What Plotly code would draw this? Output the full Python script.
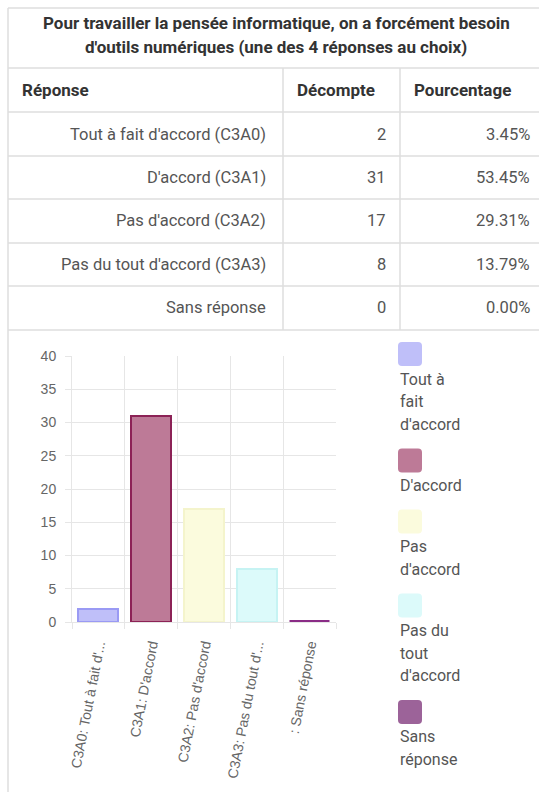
import textwrap
import plotly.graph_objects as go

W, H = 539, 792

# ---- data ----
title_lines = [
    "Pour travailler la pensée informatique, on a forcément besoin",
    "d'outils numériques (une des 4 réponses au choix)",
]
col_headers = ["Réponse", "Décompte", "Pourcentage"]
answers = [
    "Tout à fait d'accord (C3A0)",
    "D'accord (C3A1)",
    "Pas d'accord (C3A2)",
    "Pas du tout d'accord (C3A3)",
    "Sans réponse",
]
counts = [2, 31, 17, 8, 0]
percents = [3.45, 53.45, 29.31, 13.79, 0.00]
bar_labels = [
    "C3A0: Tout à fait d'...",
    "C3A1: D'accord",
    "C3A2: Pas d'accord",
    "C3A3: Pas du tout d'...",
    ": Sans réponse",
]
legend_labels = ["Tout à fait d'accord", "D'accord", "Pas d'accord",
                 "Pas du tout d'accord", "Sans réponse"]
fill_colors = ["#bfbff9", "#bd7a97", "#fbfbdd", "#dcfafa", "#9c6399"]
line_colors = ["#9a9af4", "#8c2256", "#f4f4cc", "#c6f3f3", "#8a2c86"]
y_ticks = [0, 5, 10, 15, 20, 25, 30, 35, 40]


def px(x):
    return x / W


def py(y):
    return 1 - y / H


GRID = "#e6e6e6"
BORDER = "#dedede"
TABLE_FONT = "Roboto, Noto Sans, sans-serif"
AXIS_FONT = "Liberation Sans, Arial, sans-serif"

fig = go.Figure()

fig.add_trace(go.Bar(
    x=bar_labels,
    y=counts,
    width=0.76,
    marker=dict(color=fill_colors,
                line=dict(color=line_colors, width=[2, 2, 2, 2, 3])),
    hoverinfo="x+y",
))

shapes = []
annotations = []

# ---- table grid ----
row_edges = [8, 68, 112, 156, 199, 243, 286, 330]
for y in row_edges:
    shapes.append(dict(type="line", xref="paper", yref="paper",
                       x0=px(8), x1=px(560), y0=py(y), y1=py(y),
                       line=dict(color=BORDER, width=1.5)))
shapes.append(dict(type="line", xref="paper", yref="paper",
                   x0=px(8), x1=px(8), y0=py(8), y1=py(800),
                   line=dict(color=BORDER, width=1.5)))
for x in (283, 400):
    shapes.append(dict(type="line", xref="paper", yref="paper",
                       x0=px(x), x1=px(x), y0=py(68), y1=py(330),
                       line=dict(color=BORDER, width=1.5)))

# title
for i, line in enumerate(title_lines):
    annotations.append(dict(
        xref="paper", yref="paper", x=px(276), y=py(23 + 24 * i),
        text=f"<b>{line}</b>", showarrow=False, xanchor="center", yanchor="middle",
        font=dict(family=TABLE_FONT, size=17, color="#333333")))

# column headers
header_x = [20, 295, 412]
for hx, name in zip(header_x, col_headers):
    annotations.append(dict(
        xref="paper", yref="paper", x=px(hx), y=py(90),
        text=f"<b>{name}</b>", showarrow=False, xanchor="left", yanchor="middle",
        font=dict(family=TABLE_FONT, size=17, color="#333333")))

# body rows
for i, (ans, cnt, pct) in enumerate(zip(answers, counts, percents)):
    yc = (row_edges[i + 2] + row_edges[i + 3]) / 2
    for xr, txt in ((268, ans), (388, str(cnt)), (532, f"{pct:.2f}%")):
        annotations.append(dict(
            xref="paper", yref="paper", x=px(xr), y=py(yc),
            text=txt, showarrow=False, xanchor="right", yanchor="middle",
            font=dict(family=TABLE_FONT, size=16.5, color="#555555")))

# ---- legend (swatch above wrapped label) ----
top = 342
line_pitch = 22.8
for label, color in zip(legend_labels, fill_colors):
    x0, x1, y0, y1 = 398, 422, top, top + 24
    r = 4
    path = (f"M {px(x0 + r)},{py(y0)} L {px(x1 - r)},{py(y0)} "
            f"Q {px(x1)},{py(y0)} {px(x1)},{py(y0 + r)} "
            f"L {px(x1)},{py(y1 - r)} Q {px(x1)},{py(y1)} {px(x1 - r)},{py(y1)} "
            f"L {px(x0 + r)},{py(y1)} Q {px(x0)},{py(y1)} {px(x0)},{py(y1 - r)} "
            f"L {px(x0)},{py(y0 + r)} Q {px(x0)},{py(y0)} {px(x0 + r)},{py(y0)} Z")
    shapes.append(dict(type="path", xref="paper", yref="paper", path=path,
                       fillcolor=color, line=dict(width=0)))
    lines = textwrap.wrap(label, width=8)
    yc = top + 37
    for ln in lines:
        annotations.append(dict(
            xref="paper", yref="paper", x=px(398), y=py(yc),
            text=ln, showarrow=False, xanchor="left", yanchor="middle",
            font=dict(family=TABLE_FONT, size=16, color="#555555")))
        yc += line_pitch
    top = yc - line_pitch + 24

fig.update_layout(
    template="none",
    width=W, height=H,
    margin=dict(l=0, r=0, t=0, b=0, autoexpand=False),
    paper_bgcolor="white", plot_bgcolor="white",
    showlegend=False,
    shapes=shapes,
    annotations=annotations,
    bargap=0,
    xaxis=dict(
        domain=[px(72), px(336)],
        range=[-0.5, 4.5],
        automargin=False,
        tickson="boundaries",
        showgrid=True, gridcolor=GRID, gridwidth=1,
        ticks="outside", ticklen=6, tickcolor=GRID,
        showline=True, linecolor=GRID,
        tickangle=-79,
        ticklabelstandoff=8,
        tickfont=dict(family=AXIS_FONT, size=14, color="#666666"),
        fixedrange=True,
    ),
    yaxis=dict(
        domain=[py(622), py(356)],
        range=[0, 40],
        automargin=False,
        tickvals=y_ticks,
        showgrid=True, gridcolor=GRID, gridwidth=1,
        zeroline=False,
        ticks="outside", ticklen=6, tickcolor=GRID,
        showline=True, linecolor=GRID,
        ticklabelstandoff=6,
        tickfont=dict(family=AXIS_FONT, size=14, color="#666666"),
        fixedrange=True,
    ),
)

fig.write_html("out.html", config={"displayModeBar": False})
